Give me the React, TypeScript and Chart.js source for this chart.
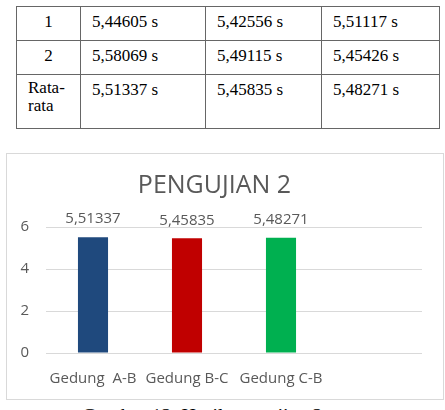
import React, { useEffect, useRef } from "react";
import { Chart, registerables } from "chart.js";

Chart.register(...registerables);

const categories = ["Gedung  A-B", "Gedung B-C", "Gedung C-B", ""];
const averages = [5.51337, 5.45835, 5.48271];
const barColors = ["#1F497D", "#C00000", "#00B050"];
const yTicks = [0, 2, 4, 6];

const tableRows = [
  ["1", "5,44605 s", "5,42556 s", "5,51117 s"],
  ["2", "5,58069 s", "5,49115 s", "5,45426 s"],
  ["Rata-\nrata", "5,51337 s", "5,45835 s", "5,48271 s"],
];
const chartTitle = "PENGUJIAN 2";
const caption = "Gambar 12. Hasil pengujian 2";

const FONT = "'Open Sans', sans-serif";
const GREY = "#595959";

const fmt = (v: number) => v.toFixed(5).replace(".", ",");

const valueLabels = {
  id: "valueLabels",
  afterDatasetsDraw(chart: any) {
    const ctx = chart.ctx;
    const meta = chart.getDatasetMeta(0);
    ctx.save();
    ctx.font = `15px ${FONT}`;
    ctx.fillStyle = GREY;
    ctx.textAlign = "center";
    ctx.textBaseline = "middle";
    meta.data.forEach((el: any, i: number) => {
      const v = chart.data.datasets[0].data[i];
      if (v == null) return;
      ctx.fillText(fmt(v), el.x, el.y - 18);
    });
    ctx.restore();
  },
};

export default function App() {
  const ref = useRef<HTMLCanvasElement>(null);
  useEffect(() => {
    if (!ref.current) return;
    const chart = new Chart(ref.current, {
      type: "bar",
      data: {
        labels: categories,
        datasets: [
          {
            data: averages,
            backgroundColor: barColors,
            borderWidth: 0,
            barPercentage: 0.32,
            categoryPercentage: 1,
          },
        ],
      },
      options: {
        animation: false,
        responsive: false,
        maintainAspectRatio: false,
        layout: { padding: { left: 0, right: 21, top: 0, bottom: 11 } },
        plugins: {
          legend: { display: false },
          tooltip: { enabled: false },
          title: {
            display: true,
            text: chartTitle,
            color: GREY,
            font: { family: FONT, size: 25, weight: "normal" },
            padding: { top: 17, bottom: 26 },
          },
        },
        scales: {
          x: {
            afterFit: (s: any) => {
              s.height = 35;
            },
            grid: { display: false, drawTicks: false },
            border: { display: false },
            ticks: {
              color: GREY,
              font: { family: FONT, size: 15 },
              padding: 17,
              maxRotation: 0,
              autoSkip: false,
            },
          },
          y: {
            min: 0,
            max: 6,
            afterFit: (s: any) => {
              s.width = 39;
            },
            afterBuildTicks: (s: any) => {
              s.ticks = yTicks.map((v) => ({ value: v }));
            },
            grid: { color: "#D9D9D9", drawTicks: false, lineWidth: 1 },
            border: { display: false },
            ticks: {
              color: GREY,
              font: { family: FONT, size: 15 },
              padding: 17,
            },
          },
        },
      },
      plugins: [valueLabels],
    });
    return () => chart.destroy();
  }, []);

  const cellBase: React.CSSProperties = {
    border: "1px solid #666",
    padding: "3px 11px 0 11px",
    verticalAlign: "top",
    whiteSpace: "pre-line",
    lineHeight: "17px",
  };
  const colW = [64, 125, 116, 118];
  const rowH = [34, 34, 54];

  return (
    <div
      style={{
        position: "fixed",
        left: 0,
        top: 0,
        width: 445,
        height: 410,
        background: "#fff",
        overflow: "hidden",
      }}
    >
      <table
        style={{
          position: "absolute",
          left: 16,
          top: 6,
          borderCollapse: "collapse",
          tableLayout: "fixed",
          width: 424,
          fontFamily: "'Liberation Serif', 'Times New Roman', serif",
          fontSize: 17,
          color: "#000",
        }}
      >
        <colgroup>
          {colW.map((w, i) => (
            <col key={i} style={{ width: w }} />
          ))}
        </colgroup>
        <tbody>
          {tableRows.map((row, r) => (
            <tr key={r} style={{ height: rowH[r] }}>
              {row.map((c, k) => (
                <td
                  key={k}
                  style={{
                    ...cellBase,
                    paddingTop: r === 2 && k === 0 ? 4 : 6,
                    lineHeight: r === 2 && k === 0 ? "18px" : "17px",
                    textAlign: k === 0 && r < 2 ? "center" : "left",
                  }}
                >
                  {c}
                </td>
              ))}
            </tr>
          ))}
        </tbody>
      </table>
      <div
        style={{
          position: "absolute",
          left: 6,
          top: 153,
          width: 436,
          height: 245,
          border: "1px solid #D9D9D9",
        }}
      >
        <canvas ref={ref} width={436} height={245} style={{ display: "block" }} />
      </div>
      <div
        style={{
          position: "absolute",
          left: 82,
          top: 405,
          fontFamily: "'Liberation Serif', 'Times New Roman', serif",
          fontSize: 20,
          whiteSpace: "nowrap",
          color: "#000",
        }}
      >
        {caption}
      </div>
    </div>
  );
}
